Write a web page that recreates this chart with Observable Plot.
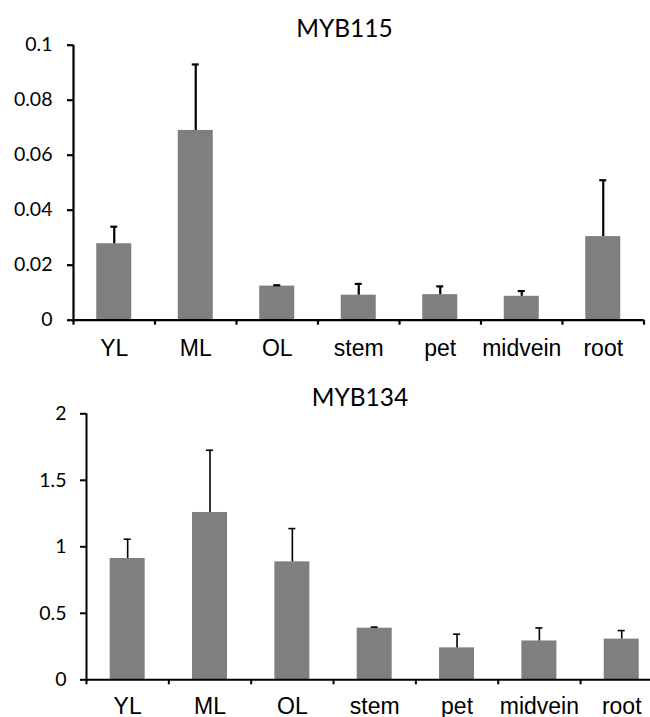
<!DOCTYPE html>
<html><head><meta charset="utf-8">
<script src="https://cdn.jsdelivr.net/npm/d3@7"></script>
<script src="https://cdn.jsdelivr.net/npm/@observablehq/plot@0.6"></script>
<style>
html,body{margin:0;padding:0;background:#fff;overflow:hidden;}
#wrap{position:relative;width:650px;height:717px;overflow:hidden;background:#fff;}
.title{position:absolute;font-family:Lato,"Open Sans",sans-serif;font-size:24.5px;line-height:1;color:#000;white-space:nowrap;transform:translateX(-50%);}
.chart{position:absolute;left:0;}
</style></head><body><div id="wrap"></div>
<script>
const categories = ["YL", "ML", "OL", "stem", "pet", "midvein", "root"];
const titles = ["MYB115", "MYB134"];
const myb115Mean = [0.0278, 0.0690, 0.0124, 0.0091, 0.0093, 0.0087, 0.0304];
const myb115Err  = [0.0062, 0.0240, 0.0003, 0.0041, 0.0030, 0.0019, 0.0205];
const myb134Mean = [0.912, 1.258, 0.887, 0.388, 0.240, 0.292, 0.306];
const myb134Err  = [0.145, 0.468, 0.250, 0.008, 0.103, 0.098, 0.064];
const myb115Ticks = [0, 0.02, 0.04, 0.06, 0.08, 0.1];
const myb134Ticks = [0, 0.5, 1, 1.5, 2];

function chart({means, errs, ticks, height, marginTop, marginBottom, xRange, lineW, errW, tickPad, labelPad}) {
  const n = categories.length;
  const data = categories.map((c, i) => ({c, i, mean: means[i], err: errs[i]}));
  const boundaries = d3.range(n + 1);
  const centers = categories.map((c, i) => i + 0.5);
  const step = (xRange[1] - xRange[0]) / n;
  const barInset = (step - 35) / 2;
  const ymax = d3.max(ticks);
  return Plot.plot({
    width: 650, height, marginTop, marginBottom,
    marginLeft: xRange[0], marginRight: Math.max(0, 650 - xRange[1]),
    style: {overflow: "hidden", background: "transparent"},
    x: {type: "linear", domain: [0, n], range: xRange},
    y: {type: "linear", domain: [0, ymax]},
    marks: [
      Plot.rect(data, {x1: "i", x2: d => d.i + 1, y1: 0, y2: "mean", insetLeft: barInset, insetRight: barInset, fill: "#7f7f7f"}),
      Plot.ruleX(data, {x: d => d.i + 0.5, y1: "mean", y2: d => d.mean + d.err, stroke: "#000", strokeWidth: errW}),
      Plot.ruleY(data, {x1: d => d.i + 0.5, x2: d => d.i + 0.5, y: d => d.mean + d.err, insetLeft: -3.5, insetRight: -3.5, stroke: "#000", strokeWidth: errW}),
      Plot.ruleX([0], {y1: 0, y2: ymax, stroke: "#000", strokeWidth: lineW}),
      Plot.ruleY([0], {stroke: "#000", strokeWidth: lineW}),
      Plot.axisY(ticks, {tickSize: 6, tickPadding: tickPad, tickFormat: d => String(d), fontSize: 19.5, fontFamily: "Lato", strokeWidth: lineW, label: null}),
      Plot.axisX(boundaries, {tickSize: 5, tickFormat: () => "", strokeWidth: lineW, label: null}),
      Plot.axisX(centers, {tickSize: 0, tickPadding: labelPad, tickFormat: d => categories[Math.floor(d)], fontSize: 23, fontFamily: "Liberation Sans", label: null})
    ]
  });
}

const wrap = document.getElementById("wrap");

function addTitle(text, cx, top) {
  const t = document.createElement("div");
  t.className = "title";
  t.textContent = text;
  t.style.left = cx + "px";
  t.style.top = top + "px";
  wrap.appendChild(t);
}

const c1 = chart({means: myb115Mean, errs: myb115Err, ticks: myb115Ticks, height: 345, marginTop: 14.7, marginBottom: 55.3, xRange: [73, 643.5], lineW: 2.2, errW: 2.2, tickPad: 15, labelPad: 19.5});
c1.classList.add("chart"); c1.style.top = "30px";
wrap.appendChild(c1);

const c2 = chart({means: myb134Mean, errs: myb134Err, ticks: myb134Ticks, height: 327, marginTop: 23.3, marginBottom: 37.7, xRange: [86, 662.4], lineW: 2, errW: 1.6, tickPad: 14, labelPad: 17.5});
c2.classList.add("chart"); c2.style.top = "390px";
wrap.appendChild(c2);

addTitle(titles[0], 344.5, 16.3);
addTitle(titles[1], 360, 385);
</script></body></html>
